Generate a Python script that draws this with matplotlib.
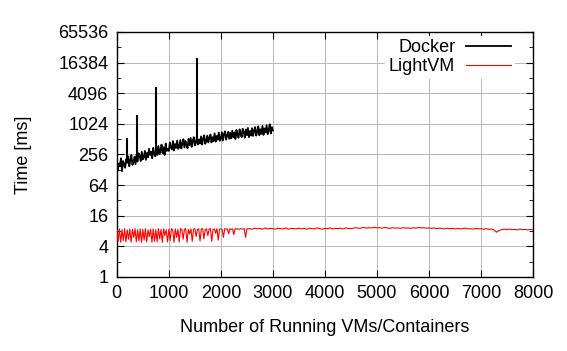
import numpy as np
import matplotlib.pyplot as plt
from matplotlib.ticker import FixedLocator, NullFormatter

plt.rcParams['font.family'] = ['Liberation Sans', 'DejaVu Sans']

# Docker: boot time vs number of running containers (x step 20)
docker_x = np.arange(0, 3001, 20)
docker_ms = [
    200, 125, 170, 150, 215, 120, 190, 165, 140, 205,
    175, 235, 150, 200, 250, 160, 180, 230, 165, 255,
    185, 270, 240, 190, 290, 205, 225, 300, 200, 275,
    225, 330, 250, 290, 215, 345, 260, 235, 360, 250,
    375, 260, 310, 400, 270, 355, 250, 420, 300, 330,
    300, 440, 350, 320, 470, 305, 410, 345, 480, 330,
    360, 490, 335, 420, 510, 350, 470, 380, 340, 520,
    390, 540, 360, 470, 560, 385, 430, 575, 400, 505,
    420, 580, 400, 520, 610, 415, 470, 600, 440, 545,
    630, 440, 560, 470, 665, 455, 590, 500, 690, 475,
    520, 700, 480, 640, 730, 500, 600, 715, 520, 680,
    530, 750, 560, 690, 515, 780, 600, 545, 800, 650,
    560, 820, 700, 545, 790, 610, 850, 560, 740, 600,
    840, 590, 760, 880, 600, 720, 910, 610, 800, 650,
    930, 620, 830, 700, 960, 640, 780, 1000, 660, 880,
    760,
]

# Docker spikes
spike_x = [190, 380, 760, 1540]
spike_base = [180, 215, 290, 450]
spike_top = [530, 1500, 5300, 20000]

# LightVM: dense part (x step 25) then smoother part (x step 50)
light_x1 = np.arange(0, 2501, 25)
light_ms1 = [
    8.6, 5.0, 8.8, 4.8, 8.5, 5.2, 8.9, 4.9, 8.4, 5.5,
    8.7, 4.8, 8.6, 6.0, 8.9, 4.9, 8.5, 5.1, 8.8, 4.8,
    8.6, 5.3, 8.9, 4.9, 8.4, 6.2, 8.7, 4.8, 8.8, 5.0,
    8.5, 4.9, 8.9, 5.6, 8.6, 4.8, 8.8, 6.5, 8.5, 4.9,
    8.7, 5.2, 8.9, 8.4, 4.8, 8.8, 6.0, 8.6, 4.9, 8.9,
    8.5, 5.5, 8.7, 8.9, 4.8, 8.6, 7.0, 8.8, 5.0, 8.7,
    8.9, 6.2, 8.6, 8.8, 5.1, 8.7, 8.9, 5.6, 8.6, 8.8,
    6.5, 8.7, 8.9, 5.0, 8.6, 8.8, 7.2, 8.9, 5.3, 8.7,
    8.8, 8.6, 6.0, 8.9, 8.7, 8.8, 7.0, 8.9, 8.6, 8.8,
    6.8, 8.9, 8.7, 8.8, 8.6, 8.9, 8.8, 8.7, 8.9, 6.0,
    8.8,
]
light_x2 = np.arange(2550, 8001, 50)
light_ms2 = [
    8.9, 8.7, 9.1, 8.8, 9.0, 8.7, 9.2, 8.8, 9.0, 8.9,
    8.7, 9.1, 8.9, 8.8, 9.2, 8.7, 9.0, 8.9, 8.8, 9.1,
    8.8, 9.0, 8.7, 9.1, 8.9, 8.8, 9.2, 8.9, 8.7, 9.0,
    8.9, 9.2, 8.8, 9.0, 8.9, 9.1, 8.8, 9.2, 9.0, 8.9,
    9.1, 9.3, 9.0, 9.2, 9.4, 9.1, 9.3, 9.2, 9.5, 9.2,
    9.3, 9.1, 9.4, 9.2, 9.0, 9.3, 9.1, 9.2, 9.0, 9.3,
    9.1, 9.2, 9.0, 9.3, 9.1, 9.4, 9.2, 9.3, 9.1, 9.2,
    9.0, 9.2, 8.9, 9.1, 9.0, 8.8, 9.1, 8.9, 9.0, 8.8,
    9.0, 8.8, 8.9, 9.1, 8.8, 8.9, 8.7, 9.0, 8.8, 8.9,
    8.7, 8.9, 8.6, 8.8, 8.4, 7.6, 8.2, 8.5, 8.7, 8.5,
    8.7, 8.5, 8.6, 8.4, 8.7, 8.5, 8.6, 8.4, 8.6, 8.5,
]
light_x = np.concatenate([light_x1, light_x2])
light_ms = light_ms1 + light_ms2

yticks = [1, 4, 16, 64, 256, 1024, 4096, 16384, 65536]
yminor = [2, 8, 32, 128, 512, 2048, 8192, 32768]
xticks = [0, 1000, 2000, 3000, 4000, 5000, 6000, 7000, 8000]

fig = plt.figure(figsize=(5.67, 3.51), dpi=100)
ax = fig.add_axes([0.206, 0.211, 0.734, 0.698])

ax.plot(docker_x, docker_ms, color='black', lw=1.3, label='Docker', zorder=3)
ax.vlines(spike_x, spike_base, spike_top, color='black', lw=1.5, zorder=3)
ax.plot(light_x, light_ms, color='red', lw=0.8, label='LightVM', zorder=3)

ax.set_yscale('log', base=2)
ax.set_ylim(1, 65536)
ax.set_xlim(0, 8000)
ax.set_yticks(yticks)
ax.set_yticklabels([str(v) for v in yticks])
ax.yaxis.set_minor_locator(FixedLocator(yminor))
ax.yaxis.set_minor_formatter(NullFormatter())
ax.set_xticks(xticks)
ax.set_xticklabels([str(v) for v in xticks])

ax.tick_params(which='both', direction='in', top=True, right=True, labelsize=13, pad=6)
ax.tick_params(which='major', length=5)
ax.tick_params(which='minor', length=3)
ax.grid(True, which='major', color='#b8b8b8', lw=0.7)
for s in ax.spines.values():
    s.set_linewidth(1.0)

ax.set_xlabel('Number of Running VMs/Containers', fontsize=13, labelpad=12)
ax.set_ylabel('Time [ms]', fontsize=13, labelpad=19)

leg = ax.legend(loc='upper right', bbox_to_anchor=(0.965, 1.0), fontsize=13,
                markerfirst=False, handlelength=2.5,
                frameon=True, fancybox=False, framealpha=1, edgecolor='none',
                borderaxespad=0.2, borderpad=0.2, labelspacing=0.1, handletextpad=0.6)

plt.savefig('out.png', dpi=100)
